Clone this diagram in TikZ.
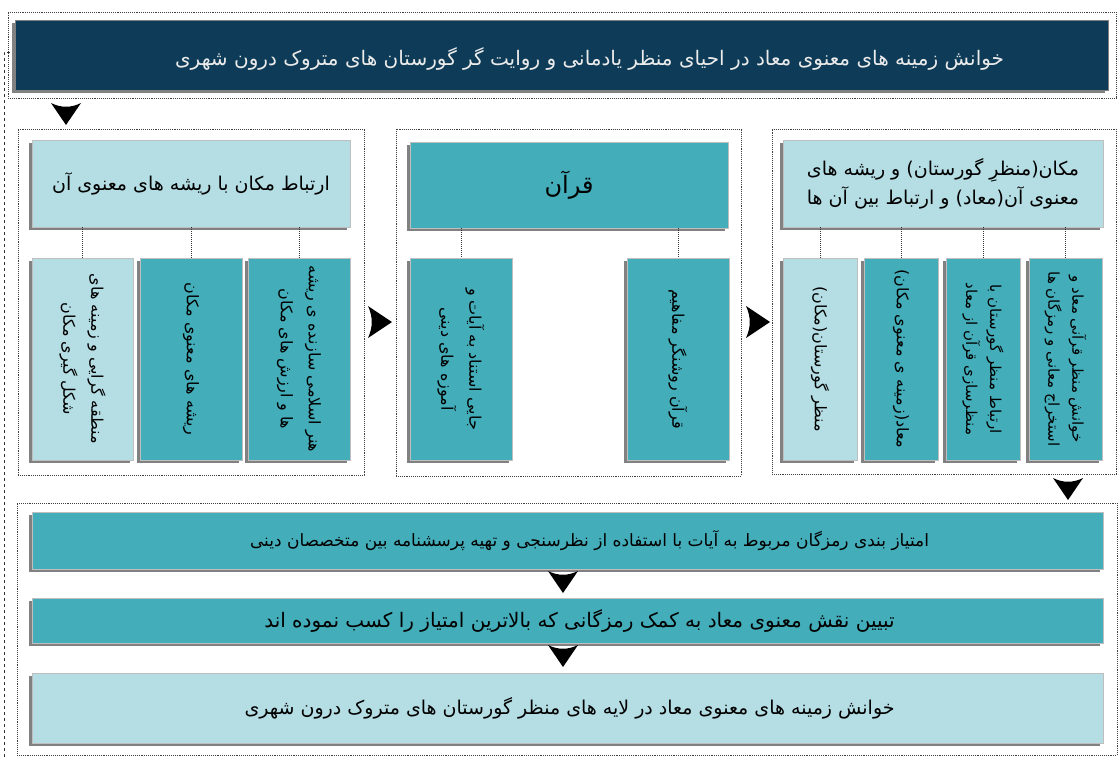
\documentclass[tikz,border=0pt]{standalone}
\usepackage{fontspec}
\newfontfamily\arabicfont[Script=Arabic]{DejaVu Sans}
\TeXXeTstate=1
\usetikzlibrary{shadows}
\definecolor{darkb}{RGB}{14,60,88}
\definecolor{tealb}{RGB}{68,173,186}
\definecolor{lightb}{RGB}{180,221,228}
\begin{document}
\begin{tikzpicture}[x=1pt,y=-1pt,
  frame/.style={draw=black!75, densely dotted, line width=0.9pt, inner sep=0pt},
  box/.style={draw=black!25, line width=0.5pt, inner sep=0pt,
    drop shadow={shadow xshift=-3pt, shadow yshift=-3pt, fill=black!55, opacity=0.9}},
  tealbox/.style={box, fill=tealb},
  lightbox/.style={box, fill=lightb},
  conn/.style={densely dotted, line width=1pt, black!80},
  htext/.style={font=\arabicfont\fontsize{19}{29}\selectfont},
  vtext/.style={rotate=-90, align=center, font=\arabicfont\fontsize{16}{28}\selectfont},
  downarr/.pic={\fill[black] (-15,-22) .. controls (-5,-17) and (5,-17) .. (15,-22) -- (0,0) -- cycle;},
  rightarr/.pic={\fill[black] (-24,-16) .. controls (-19,-5) and (-19,5) .. (-24,16) -- (0,0) -- cycle;}
]
\useasboundingbox (0,0) rectangle (1118,758);

% dashed bracket on the left
\coordinate (brtop) at (10,52);
\coordinate (brbend) at (4,52);
\coordinate (brend) at (4,758);
\draw[dashed, black!80, line width=0.8pt] (brtop) -- (brbend) -- (brend);

% frames
\node[frame, minimum width=1108, minimum height=86] (ftop) at (562,55) {};
\node[frame, minimum width=346, minimum height=346] (fleft) at (191,302) {};
\node[frame, minimum width=345, minimum height=347] (fmid) at (568.5,302.5) {};
\node[frame, minimum width=344, minimum height=345] (fright) at (944,301.5) {};
\node[frame, minimum width=1100, minimum height=252] (fbot) at (567,629) {};

% banner
\node[box, fill=darkb, draw=black!50, minimum width=1093, minimum height=70,
  label={[font=\arabicfont\fontsize{20}{24}\selectfont, text=white!92!black, xshift=28pt, yshift=-4pt]center:{\beginR خوانش زمینه های معنوی معاد در احیای منظر یادمانی و روایت گر گورستان های متروک درون شهری\endR}}]
  (banner) at (561.5,55) {};

% left section
\node[lightbox, htext, minimum width=318, minimum height=87] (lh) at (191,183.5)
  {\beginR ارتباط مکان با ریشه های معنوی آن\endR};
\node[lightbox, minimum width=101, minimum height=202,
  label={[vtext]center:{\beginR منطقه گرایی و زمینه های\endR\\\beginR شکل گیری مکان\endR}}] (l1) at (82.5,359) {};
\node[tealbox, minimum width=102, minimum height=202,
  label={[vtext]center:{\beginR ریشه های معنوی مکان\endR}}] (l2) at (191,359) {};
\node[tealbox, minimum width=102, minimum height=202,
  label={[vtext]center:{\beginR هنر اسلامی سازنده ی ریشه\endR\\\beginR ها و ارزش های مکان\endR}}] (l3) at (299,359) {};
\draw[conn] (lh.south -| l1) -- (l1.north);
\draw[conn] (lh.south -| l2) -- (l2.north);
\draw[conn] (lh.south -| l3) -- (l3.north);

% middle section
\node[tealbox, font=\arabicfont\fontsize{24}{28}\selectfont, minimum width=318, minimum height=86] (qh) at (569,185)
  {\beginR قرآن\endR};
\node[tealbox, minimum width=102, minimum height=202,
  label={[vtext]center:{\beginR جایی استناد به آیات و\endR\\\beginR آموزه های دینی\endR}}] (m1) at (461,359) {};
\node[tealbox, minimum width=102, minimum height=202,
  label={[vtext]center:{\beginR قرآن روشنگر مفاهیم\endR}}] (m2) at (678,359) {};
\draw[conn] (qh.south -| m1) -- (m1.north);
\draw[conn] (qh.south -| m2) -- (m2.north);

% right section
\node[lightbox, htext, align=center, minimum width=320, minimum height=87] (rh) at (943,183.5)
  {\beginR مکان(منظرِ گورستان) و ریشه های\endR\\\beginR معنوی آن(معاد) و ارتباط بین آن ها\endR};
\node[lightbox, minimum width=74, minimum height=202,
  label={[vtext]center:{\beginR منظر گورستان(مکان)\endR}}] (r1) at (820,359) {};
\node[tealbox, minimum width=74, minimum height=202,
  label={[vtext]center:{\beginR معاد(زمینه ی معنوی مکان)\endR}}] (r2) at (901,359) {};
\node[tealbox, minimum width=74, minimum height=202,
  label={[vtext, font=\arabicfont\fontsize{15}{24}\selectfont]center:{\beginR ارتباط منظر گورستان با\endR\\\beginR منظرسازی قرآن از معاد\endR}}] (r3) at (983,359) {};
\node[tealbox, minimum width=73, minimum height=202,
  label={[vtext, font=\arabicfont\fontsize{15}{24}\selectfont]center:{\beginR خوانش منظر قرآنی معاد و\endR\\\beginR استخراج معانی و رمزگان ها\endR}}] (r4) at (1065.5,359) {};
\draw[conn] (rh.south -| r1) -- (r1.north);
\draw[conn] (rh.south -| r2) -- (r2.north);
\draw[conn] (rh.south -| r3) -- (r3.north);
\draw[conn] (rh.south -| r4) -- (r4.north);

% bottom bars
\node[tealbox, minimum width=1071, minimum height=57,
  label={[font=\arabicfont\fontsize{17}{20}\selectfont, xshift=22pt]center:{\beginR امتیاز بندی رمزگان مربوط به آیات با استفاده از نظرسنجی و تهیه پرسشنامه  بین متخصصان دینی\endR}}]
  (b1) at (567.5,540.5) {};
\node[tealbox, minimum width=1071, minimum height=45,
  label={[font=\arabicfont\fontsize{20}{22}\selectfont, xshift=12pt]center:{\beginR تبیین نقش معنوی معاد به کمک رمزگانی که بالاترین امتیاز را کسب نموده اند\endR}}]
  (b2) at (567.5,620.5) {};
\node[lightbox, minimum width=1071, minimum height=70,
  label={[font=\arabicfont\fontsize{19}{22}\selectfont, xshift=2pt]center:{\beginR خوانش زمینه های معنوی معاد در  لایه های منظر گورستان های متروک درون شهری\endR}}]
  (b3) at (567.5,708) {};

% arrows
\pic at (66,125) {downarr};
\pic at (392,322) {rightarr};
\pic at (770,322) {rightarr};
\pic at (1068,500) {downarr};
\pic at (563,593) {downarr};
\pic at (563,667) {downarr};
\end{tikzpicture}
\end{document}
